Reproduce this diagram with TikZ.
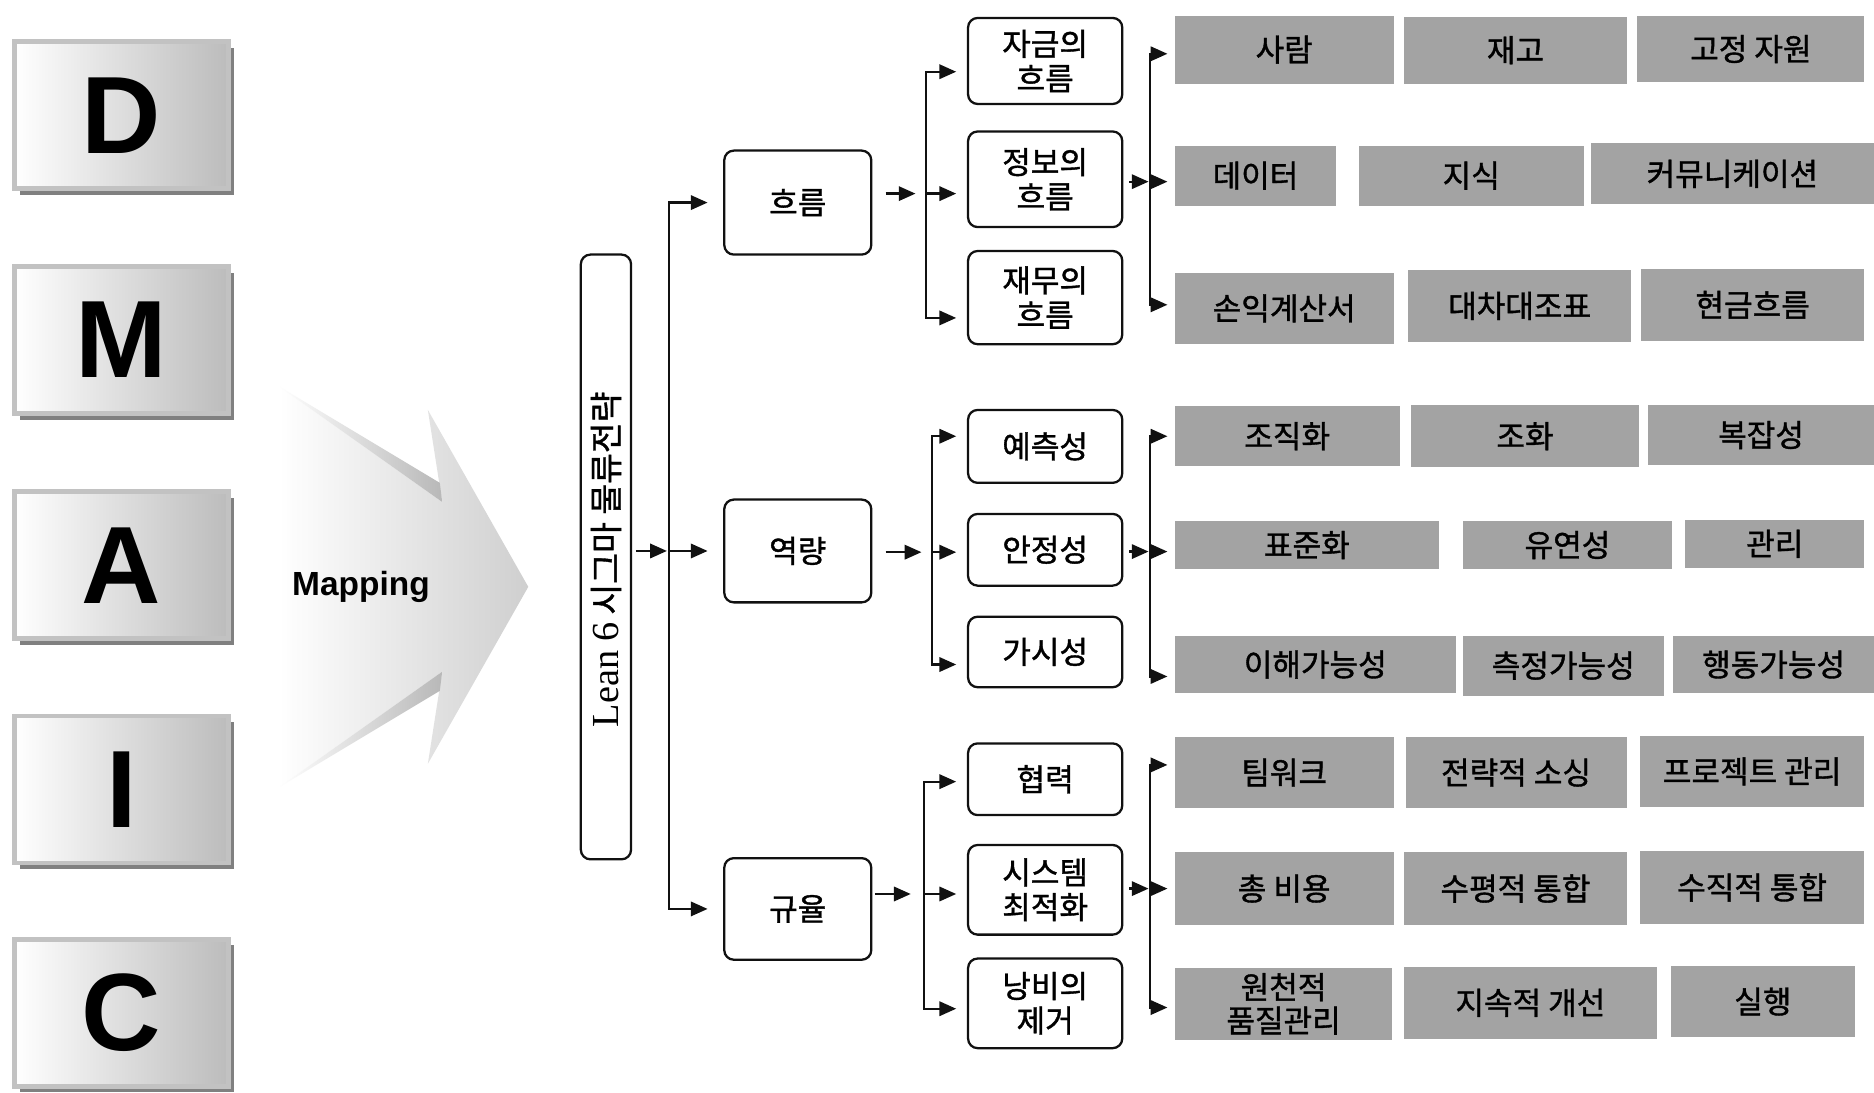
\documentclass[tikz,border=0pt]{standalone}
\usepackage{fontspec}
\setmainfont{Liberation Sans}
\newfontfamily\krfont{Noto Sans CJK KR}[FakeBold=1.2]
\newfontfamily\serifen{Liberation Serif}
\usetikzlibrary{arrows.meta,shadows}

\definecolor{itemgray}{HTML}{A3A3A3}
\definecolor{rimgray}{HTML}{C2C2C2}
\definecolor{facegray}{HTML}{BCBCBC}
\definecolor{shadowgray}{HTML}{808080}
\definecolor{arrowgray}{HTML}{CFCFCF}
\definecolor{bevelgray}{HTML}{B8B8B8}
\definecolor{ink}{HTML}{111111}

% gray item box given by its corners
\newcommand\grayitem[6]{%
  \node[gitem, minimum width={(#4)-(#2)}, minimum height={(#5)-(#3)}]
    (#1) at ({((#2)+(#4))/2},{((#3)+(#5))/2}) {#6};}
% rounded outline box given by its corners
\newcommand\roundbox[6]{%
  \node[rbox, minimum width={(#4)-(#2)}, minimum height={(#5)-(#3)}]
    (#1) at ({((#2)+(#4))/2},{((#3)+(#5))/2}) {#6};}

\begin{document}
\begin{tikzpicture}[x=1pt,y=-1pt,
  letter/.style={minimum width=179pt, minimum height=123pt, inner sep=0pt,
    draw=rimgray, line width=4pt, left color=white, right color=facegray,
    drop shadow={shadow xshift=5pt, shadow yshift=-5pt, fill=shadowgray, opacity=1},
    font=\fontsize{92}{92}\selectfont\bfseries},
  rbox/.style={draw=ink, line width=1.9pt, rounded corners=8pt, inner sep=0pt,
    align=center, font=\krfont\fontsize{26}{29}\selectfont},
  gitem/.style={fill=itemgray, inner sep=0pt, align=center,
    font=\krfont\fontsize{26}{28}\selectfont},
  arr/.style={draw=ink, line width=1.9pt, -{Triangle[length=14pt,width=12pt]}},
  link/.style={draw=ink, line width=1.9pt},
]
\fill[white] (0,0) rectangle (1568,914);
\useasboundingbox (0,0) rectangle (1568,914);

% ---- DMAIC column ----
\node[letter] (D) at (101.5,96.5) {D};
\node[letter] (M) at (101.5,284.5) {M};
\node[letter] (A) at (101.5,473) {A};
\node[letter] (I) at (101.5,660.5) {I};
\node[letter] (C) at (101.5,847.5) {C};

% ---- mapping arrow ----
\shade[left color=white, right color=arrowgray]
  (233,323) -- (370,420) -- (358,343) -- (442,491) -- (358,639) -- (370,562) -- (233,659) -- cycle;
\shade[left color=white, right color=bevelgray]
  (233,323) -- (370,420) -- (368,404) -- cycle;
\shade[left color=white, right color=bevelgray]
  (233,659) -- (370,562) -- (368,578) -- cycle;
\node[font=\fontsize{28}{28}\selectfont\bfseries] (map) at (302,491) {Mapping};

% ---- strategy box ----
\node[rbox, minimum width=42pt, minimum height=506pt] (lean) at (507,466) {};
\node[rotate=90, font=\krfont\fontsize{28}{28}\selectfont] (leantext) at ([yshift=-2pt]lean.center)
  {{\serifen\fontsize{32}{32}\selectfont Lean 6} 시그마 물류전략};

% ---- second level ----
\roundbox{flow}{606}{126}{729}{213}{흐름}
\roundbox{cap}{606}{418}{729}{504}{역량}
\roundbox{disc}{606}{718}{729}{803}{규율}

% ---- third level ----
\roundbox{f1}{810}{15}{939}{87}{자금의\\흐름}
\roundbox{f2}{810}{110}{939}{190}{정보의\\흐름}
\roundbox{f3}{810}{210}{939}{288}{재무의\\흐름}
\roundbox{c1}{810}{343}{939}{404}{예측성}
\roundbox{c2}{810}{430}{939}{490}{안정성}
\roundbox{c3}{810}{516}{939}{575}{가시성}
\roundbox{d1}{810}{622}{939}{682}{협력}
\roundbox{d2}{810}{707}{939}{782}{시스템\\최적화}
\roundbox{d3}{810}{802}{939}{877}{낭비의\\제거}

% ---- items ----
\grayitem{g11}{983}{13}{1166}{70}{사람}
\grayitem{g12}{1175}{14}{1361}{70}{재고}
\grayitem{g13}{1370}{13}{1560}{69}{고정 자원}
\grayitem{g21}{983}{122}{1118}{172}{데이터}
\grayitem{g22}{1137}{122}{1325}{172}{지식}
\grayitem{g23}{1331}{120}{1568}{171}{커뮤니케이션}
\grayitem{g31}{983}{228}{1166}{288}{손익계산서}
\grayitem{g32}{1178}{226}{1365}{286}{대차대조표}
\grayitem{g33}{1373}{225}{1560}{285}{현금흐름}
\grayitem{g41}{983}{340}{1171}{390}{조직화}
\grayitem{g42}{1181}{339}{1371}{391}{조화}
\grayitem{g43}{1379}{339}{1568}{389}{복잡성}
\grayitem{g51}{983}{436}{1204}{476}{표준화}
\grayitem{g52}{1224}{436}{1399}{476}{유연성}
\grayitem{g53}{1410}{435}{1560}{475}{관리}
\grayitem{g61}{983}{532}{1218}{580}{이해가능성}
\grayitem{g62}{1224}{532}{1392}{582}{측정가능성}
\grayitem{g63}{1400}{532}{1568}{580}{행동가능성}
\grayitem{g71}{983}{617}{1166}{676}{팀워크}
\grayitem{g72}{1176}{617}{1361}{676}{전략적 소싱}
\grayitem{g73}{1372}{616}{1560}{675}{프로젝트 관리}
\grayitem{g81}{983}{713}{1166}{774}{총 비용}
\grayitem{g82}{1175}{713}{1361}{774}{수평적 통합}
\grayitem{g83}{1372}{712}{1560}{773}{수직적 통합}
\grayitem{g91}{983}{810}{1165}{870}{원천적\\품질관리}
\grayitem{g92}{1175}{809}{1386}{869}{지속적 개선}
\grayitem{g93}{1398}{808}{1552}{868}{실행}

% ---- level 1 connectors ----
\coordinate (s1) at (560,0);
\draw[arr] ([xshift=3pt]lean.east |- cap.west) -- ([xshift=-2pt]cap.west -| s1);
\draw[arr] (cap.west -| s1) -- ([xshift=-13pt]cap.west);
\draw[arr] (cap.west -| s1) -- (flow.west -| s1) -- ([xshift=-13pt]flow.west);
\draw[arr] (cap.west -| s1) -- (disc.west -| s1) -- ([xshift=-13pt]disc.west);

% ---- level 2 connectors ----
\coordinate (s2a) at (775,162);
\coordinate (f1in) at ([xshift=-9pt,yshift=-9pt]f1.west);
\coordinate (f2in) at ([xshift=-9pt,yshift=-12pt]f2.west);
\coordinate (f3in) at ([xshift=-9pt,yshift=-17pt]f3.west);
\draw[arr] ([xshift=11pt]flow.east |- s2a) -- ([xshift=-9pt]s2a);
\draw[arr] (f2in -| s2a) -- (f1in -| s2a) -- (f1in);
\draw[arr] (f2in -| s2a) -- (f3in -| s2a) -- (f3in);
\draw[arr] (f2in -| s2a) -- (f2in);

\coordinate (s2b) at (780,462);
\coordinate (c1in) at ([xshift=-9pt,yshift=8.5pt]c1.west);
\coordinate (c2in) at ([xshift=-9pt,yshift=-2pt]c2.west);
\coordinate (c3in) at ([xshift=-9pt,yshift=-10.5pt]c3.west);
\draw[arr] ([xshift=11pt]cap.east |- s2b) -- ([xshift=-9pt]s2b);
\draw[arr] (c2in -| s2b) -- (c1in -| s2b) -- (c1in);
\draw[arr] (c2in -| s2b) -- (c3in -| s2b) -- (c3in);
\draw[arr] (c2in -| s2b) -- (c2in);

\coordinate (s2c) at (773,748);
\coordinate (d1in) at ([xshift=-9pt,yshift=-2pt]d1.west);
\coordinate (d2in) at ([xshift=-9pt,yshift=-3.5pt]d2.west);
\coordinate (d3in) at ([xshift=-9pt,yshift=-4.5pt]d3.west);
\draw[arr] ([xshift=2pt]disc.east |- s2c) -- ([xshift=-11pt]s2c);
\draw[arr] (d2in -| s2c) -- (d1in -| s2c) -- (d1in);
\draw[arr] (d2in -| s2c) -- (d3in -| s2c) -- (d3in);
\draw[arr] (d2in -| s2c) -- (d2in);

% ---- level 3 connectors ----
\coordinate (s3) at (962,0);
\coordinate (r1in) at ([xshift=-6pt,yshift=-3.5pt]g11.west);
\coordinate (r2in) at ([xshift=-6pt,yshift=-5pt]g21.west);
\coordinate (r3in) at ([xshift=-6pt,yshift=3pt]g31.west);
\draw[arr] ([xshift=5pt]f2.east |- r2in) -- ([xshift=-1pt]r2in -| s3);
\draw[arr] (r2in -| s3) -- (r1in -| s3) -- (r1in);
\draw[arr] (r2in -| s3) -- (r3in -| s3) -- (r3in);
\draw[arr] (r2in -| s3) -- (r2in);

\coordinate (r4in) at ([xshift=-6pt]g41.west);
\coordinate (r5in) at ([xshift=-6pt,yshift=-5.5pt]g51.west);
\coordinate (r6in) at ([xshift=-6pt,yshift=-10pt]g61.west);
\draw[arr] ([xshift=5pt]c2.east |- r5in) -- ([xshift=-1pt]r5in -| s3);
\draw[arr] (r5in -| s3) -- (r4in -| s3) -- (r4in);
\draw[arr] (r5in -| s3) -- (r6in -| s3) -- (r6in);
\draw[arr] (r5in -| s3) -- (r5in);

\coordinate (r7in) at ([xshift=-6pt,yshift=6.5pt]g71.west);
\coordinate (r8in) at ([xshift=-6pt]g81.west);
\coordinate (r9in) at ([xshift=-6pt,yshift=-3pt]g91.west);
\draw[arr] ([xshift=5pt]d2.east |- r8in) -- ([xshift=-1pt]r8in -| s3);
\draw[arr] (r8in -| s3) -- (r7in -| s3) -- (r7in);
\draw[arr] (r8in -| s3) -- (r9in -| s3) -- (r9in);
\draw[arr] (r8in -| s3) -- (r8in);
\end{tikzpicture}
\end{document}
